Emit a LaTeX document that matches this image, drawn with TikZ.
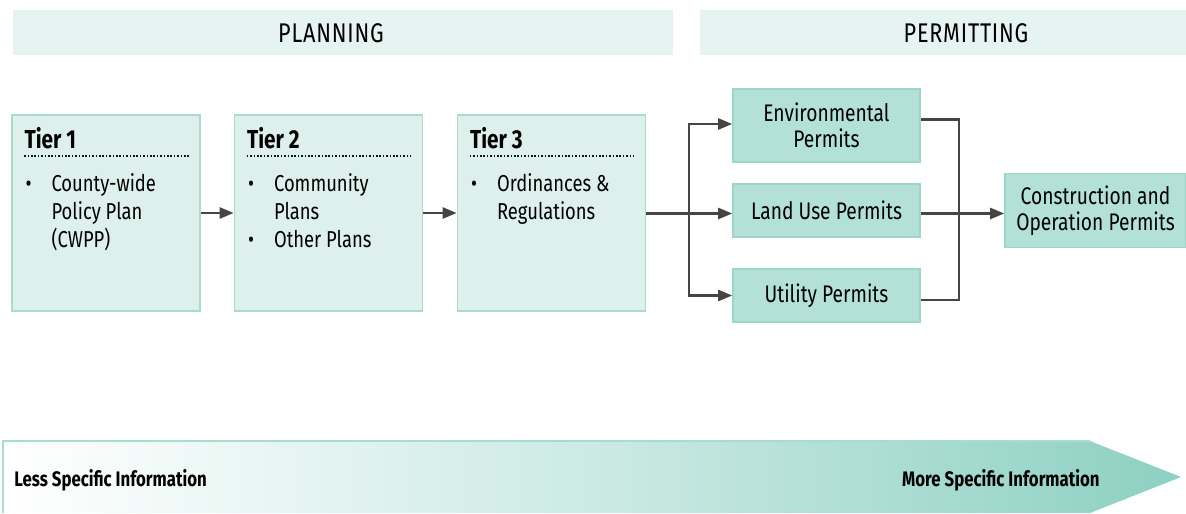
\documentclass[tikz,border=0pt]{standalone}
\usepackage{fontspec}
\setmainfont{Fira Sans}[FakeStretch=0.80]
\usetikzlibrary{arrows.meta}

\tikzset{
    headbar/.style={fill=HeadFill, draw=none, minimum height=22.5pt, inner sep=0pt},
    headtext/.style={inner sep=0pt, font=\addfontfeature{LetterSpace=3}\fontsize{13.5}{15}\selectfont},
    tierbox/.style={fill=TierFill, draw=TierLine, line width=0.8pt, minimum width=94pt, minimum height=98pt, inner sep=0pt},
    permitbox/.style={fill=PermitFill, draw=PermitLine, line width=0.8pt, minimum width=93.5pt, inner sep=0pt, align=center,
        font=\fontsize{12}{13}\selectfont},
    tiertitle/.style={anchor=base west, inner sep=0pt, font=\bfseries\fontsize{13}{14}\selectfont},
    tierlist/.style={anchor=north west, inner sep=0pt, align=left, font=\fontsize{11.5}{14}\selectfont},
    flow/.style={draw=LineGray, line width=1.2pt},
    flowarrow/.style={flow, -{Triangle[length=7pt, width=5.5pt]}},
}

\begin{document}
\begin{tikzpicture}[x=0.5pt, y=-0.5pt]
    \definecolor{HeadFill}{HTML}{E6F4F1}
    \definecolor{TierFill}{HTML}{DDF0EC}
    \definecolor{TierLine}{HTML}{A9DCD1}
    \definecolor{PermitFill}{HTML}{B3E1D7}
    \definecolor{PermitLine}{HTML}{9ED5C9}
    \definecolor{LineGray}{HTML}{454545}
    \definecolor{ArrowTeal}{HTML}{8DD0C2}
    \useasboundingbox (0,0) rectangle (1186,513);

    % phase headers
    \node[headbar, minimum width=330pt] (planning) at (343,32.5) {};
    \node[headbar, minimum width=243pt] (permitting) at (943,32.5) {};
    \node[headtext] (planningtext) at (331,33) {PLANNING};
    \node[headtext] (permittingtext) at (966,33) {PERMITTING};

    % planning tiers
    \node[tierbox] (t1) at (106,213) {};
    \node[tierbox] (t2) at (328.5,213) {};
    \node[tierbox] (t3) at (551.5,213) {};
    \foreach \tier/\num in {t1/1, t2/2, t3/3}{
        \node[tiertitle] (\tier title) at ([xshift=6.5pt, yshift=-17pt]\tier.north west) {Tier \num};
        \draw[TierLine!10!black, line width=1pt, dash pattern=on 0.8pt off 0.9pt]
            ([xshift=6.5pt, yshift=-21pt]\tier.north west) coordinate (\tier dotA)
            -- ([xshift=-6pt, yshift=-21pt]\tier.north east) coordinate (\tier dotB);
    }
    \node[tierlist] (t1list) at ([xshift=7pt, yshift=-28.5pt]t1.north west)
        {\begin{tabular}{@{}l@{\hspace{10pt}}l@{}}\textbullet & County-wide\\ & Policy Plan\\ & (CWPP)\end{tabular}};
    \node[tierlist] (t2list) at ([xshift=7pt, yshift=-28.5pt]t2.north west)
        {\begin{tabular}{@{}l@{\hspace{10pt}}l@{}}\textbullet & Community\\ & Plans\\ \textbullet & Other Plans\end{tabular}};
    \node[tierlist] (t3list) at ([xshift=7pt, yshift=-28.5pt]t3.north west)
        {\begin{tabular}{@{}l@{\hspace{10pt}}l@{}}\textbullet & Ordinances \&\\ & Regulations\end{tabular}};

    \draw[flowarrow] (t1.east) -- (t2.west);
    \draw[flowarrow] (t2.east) -- (t3.west);

    % permits
    \node[permitbox, minimum height=36.5pt] (env) at (826.5,125.5) {Environmental\\Permits};
    \node[permitbox, minimum height=26.5pt] (land) at (826.5,210.5) {Land Use Permits};
    \node[permitbox, minimum height=26.5pt] (util) at (826.5,295.5) {Utility Permits};
    \node[permitbox, minimum width=90.5pt, minimum height=37pt] (cop) at (1095.5,210.5)
        {Construction and\\Operation Permits};

    \coordinate (fork) at (689,213.5);
    \coordinate (join) at (959,213.5);
    \draw[flow] (t3.east |- fork) -- (fork);
    \draw[flowarrow] (fork) |- ([yshift=0.75pt]env.west);
    \draw[flowarrow] (fork) -- (fork -| land.west);
    \draw[flowarrow] (fork) |- (util.west);
    \draw[flow] ([yshift=3pt]env.east) -| (join);
    \draw[flow] ([yshift=-2.25pt]util.east) -| (join);
    \draw[flowarrow] (join -| land.east) -- (join -| cop.west);

    % specificity arrow
    \coordinate (barA) at (3,441);
    \coordinate (barB) at (1090,441);
    \coordinate (barTip) at (1181,477);
    \coordinate (barC) at (1090,513);
    \coordinate (barD) at (3,513);
    \shade[left color=white, right color=ArrowTeal, middle color=ArrowTeal!45]
        (barA) -- (barB) -- (barTip) -- (barC) -- (barD) -- cycle;
    \draw[TierLine, line width=0.8pt] (barD) -- (barA) -- (barB);
    \node[anchor=west, inner sep=0pt, font=\bfseries\fontsize{10.5}{12}\selectfont] (less) at (14,480)
        {Less Specific Information};
    \node[anchor=east, inner sep=0pt, font=\bfseries\fontsize{10.5}{12}\selectfont] (more) at (1100,480)
        {More Specific Information};
\end{tikzpicture}
\end{document}
